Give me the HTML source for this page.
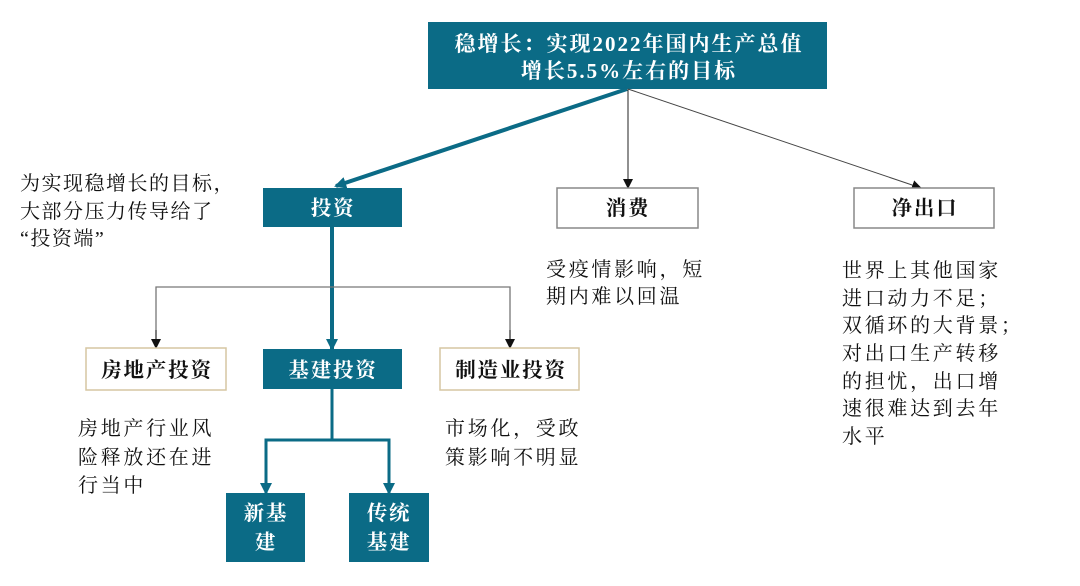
<!DOCTYPE html>
<html><head><meta charset="utf-8"><style>
html,body{margin:0;padding:0;background:#fff;}
svg{display:block;}
text{font-family:"Liberation Serif","Noto Serif CJK SC",serif;}
.b{font-weight:bold;font-size:20.5px;letter-spacing:1.8px;}
.t{font-size:20px;fill:#111;letter-spacing:2.7px;}
</style></head><body>
<svg width="1080" height="586" viewBox="0 0 1080 586">
<defs>
<marker id="ak" markerWidth="10" markerHeight="10" refX="9" refY="5" orient="auto" markerUnits="userSpaceOnUse"><path d="M0,0 L10,5 L0,10 z" fill="#111"/></marker>
<marker id="at" markerWidth="12" markerHeight="12" refX="10" refY="6" orient="auto" markerUnits="userSpaceOnUse"><path d="M0,0 L12,6 L0,12 z" fill="#0b6b86"/></marker>
</defs>
<rect x="428" y="22" width="399" height="67" fill="#0b6b86"/>
<text x="629" y="51" text-anchor="middle" class="b" fill="#fff" style="font-size:21px;letter-spacing:2px">稳增长：实现2022年国内生产总值</text>
<text x="629" y="78" text-anchor="middle" class="b" fill="#fff" style="font-size:21px;letter-spacing:2px">增长5.5%左右的目标</text>
<line x1="627" y1="89" x2="336" y2="186" stroke="#0b6b86" stroke-width="4" marker-end="url(#at)"/>
<line x1="628" y1="89" x2="628" y2="188" stroke="#222" stroke-width="1" marker-end="url(#ak)"/>
<line x1="628" y1="89" x2="921" y2="188" stroke="#444" stroke-width="1" marker-end="url(#ak)"/>
<rect x="263" y="188" width="139" height="39" fill="#0b6b86"/>
<text x="333" y="215" text-anchor="middle" class="b" fill="#fff">投资</text>
<rect x="557" y="188" width="141" height="40" fill="#fff" stroke="#888" stroke-width="1.5"/>
<text x="628" y="215" text-anchor="middle" class="b" fill="#111">消费</text>
<rect x="854" y="188" width="140" height="40" fill="#fff" stroke="#888" stroke-width="1.5"/>
<text x="925" y="215" text-anchor="middle" class="b" fill="#111">净出口</text>
<text class="t" x="20" y="190" style="letter-spacing:1.5px">为实现稳增长的目标，</text>
<text class="t" x="20" y="218" style="letter-spacing:1.5px">大部分压力传导给了</text>
<text class="t" x="20" y="245" style="letter-spacing:1.5px">“投资端”</text>
<text class="t" x="546" y="276">受疫情影响，短</text>
<text class="t" x="546" y="303">期内难以回温</text>
<text class="t" x="842" y="277">世界上其他国家</text>
<text class="t" x="842" y="305">进口动力不足；</text>
<text class="t" x="842" y="332">双循环的大背景；</text>
<text class="t" x="842" y="360">对出口生产转移</text>
<text class="t" x="842" y="388">的担忧，出口增</text>
<text class="t" x="842" y="415">速很难达到去年</text>
<text class="t" x="842" y="443">水平</text>
<line x1="332" y1="227" x2="332" y2="349" stroke="#0b6b86" stroke-width="4" marker-end="url(#at)"/>
<polyline points="156,346 156,287 510,287 510,346" fill="none" stroke="#777" stroke-width="1.3"/>
<line x1="156" y1="330" x2="156" y2="348" stroke="#222" marker-end="url(#ak)"/>
<line x1="510" y1="330" x2="510" y2="348" stroke="#222" marker-end="url(#ak)"/>
<rect x="86" y="348" width="140" height="42" fill="#fff" stroke="#d6c6a2" stroke-width="1.5"/>
<text x="157" y="377" text-anchor="middle" class="b" fill="#111">房地产投资</text>
<rect x="263" y="349" width="139" height="40" fill="#0b6b86"/>
<text x="333" y="377" text-anchor="middle" class="b" fill="#fff">基建投资</text>
<rect x="440" y="348" width="139" height="42" fill="#fff" stroke="#d6c6a2" stroke-width="1.5"/>
<text x="511" y="377" text-anchor="middle" class="b" fill="#111">制造业投资</text>
<text class="t" x="78" y="435">房地产行业风</text>
<text class="t" x="78" y="464">险释放还在进</text>
<text class="t" x="78" y="492">行当中</text>
<text class="t" x="445" y="435">市场化，受政</text>
<text class="t" x="445" y="464">策影响不明显</text>
<polyline points="332,389 332,440 266,440 266,485" fill="none" stroke="#0b6b86" stroke-width="3"/>
<polyline points="332,440 389,440 389,485" fill="none" stroke="#0b6b86" stroke-width="3"/>
<line x1="266" y1="480" x2="266" y2="493" stroke="#0b6b86" stroke-width="3" marker-end="url(#at)"/>
<line x1="389" y1="480" x2="389" y2="493" stroke="#0b6b86" stroke-width="3" marker-end="url(#at)"/>
<rect x="226" y="493" width="79" height="69" fill="#0b6b86"/>
<text x="266" y="520" text-anchor="middle" class="b" fill="#fff">新基</text>
<text x="266" y="549" text-anchor="middle" class="b" fill="#fff">建</text>
<rect x="349" y="493" width="80" height="69" fill="#0b6b86"/>
<text x="389" y="520" text-anchor="middle" class="b" fill="#fff">传统</text>
<text x="389" y="549" text-anchor="middle" class="b" fill="#fff">基建</text>
</svg>
</body></html>
